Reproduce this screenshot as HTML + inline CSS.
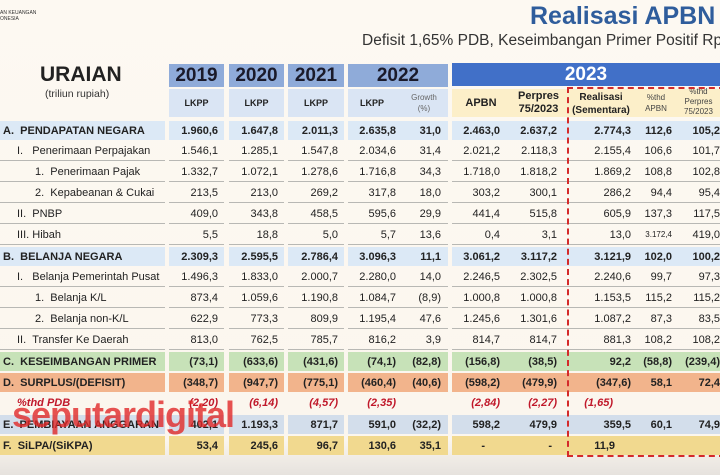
<!DOCTYPE html>
<html><head><meta charset="utf-8"><style>
*{margin:0;padding:0;box-sizing:border-box}
html,body{width:720px;height:475px;overflow:hidden}
body{background:linear-gradient(#fdf9f2 0,#fbf6ee 440px,#e6e2de 475px);font-family:"Liberation Sans",sans-serif;color:#222}
#wrap{position:relative;width:720px;height:475px;overflow:hidden}
.a{position:absolute}
.r{position:absolute;left:0;width:720px;height:21px;font-size:11px}
.r>div{position:absolute;top:0;height:20px;line-height:20px;text-align:right;white-space:nowrap}
.w>div{border-bottom:1px solid #b8b8b4}
.c0{left:0;width:165px;text-align:left!important}
.c1{left:169px;width:55px;padding-right:6px}
.c2{left:229px;width:55px;padding-right:6px}
.c3{left:288px;width:56px;padding-right:6px}
.c4{left:348px;width:52px;padding-right:4px}
.c5{left:400px;width:48px;padding-right:7px}
.c6{left:452px;width:58px;padding-right:10px}
.c7{left:510px;width:57px;padding-right:10px}
.c8{left:567px;width:68px;padding-right:4px}
.c9{left:635px;width:42px;padding-right:5px}
.c10{left:677px;width:43px;padding-right:0}
.b{font-weight:bold}
.A>div{background:#dce9f6;height:19px;top:1px}
.C>div{background:#c7e2b8;height:19px;top:1px}
.D>div{background:#f2b48c;height:19px;top:1px}
.E>div{background:#d3deeb;height:19px;top:1px}
.F>div{background:#f1d98f;height:19px;top:1px}
.P>div{color:#c0182a;font-style:italic;font-weight:bold}
.hy{position:absolute;top:64px;height:23px;background:#8fabd9;font:bold 19px "Liberation Sans",sans-serif;text-align:center;line-height:24px;color:#1a1a2a}
.hs{position:absolute;top:89px;height:28px;background:#dae5f4;font-size:9px;font-weight:bold;text-align:center;line-height:28px;color:#222}
.hz{background:#fcefc9}
</style></head><body><div id="wrap">
<div class="a" style="left:0;top:10px;font-size:5px;color:#333">AN KEUANGAN<br>ONESIA</div>
<div class="a" style="left:530px;top:2px;font:bold 25px 'Liberation Sans',sans-serif;color:#2f5d9c;white-space:nowrap">Realisasi APBN 2023</div>
<div class="a" style="left:362px;top:32px;font-size:15.5px;color:#333;white-space:nowrap">Defisit 1,65% PDB, Keseimbangan Primer Positif Rp92,2 T</div>
<div class="a" style="left:40px;top:63px;font:bold 21px 'Liberation Sans',sans-serif">URAIAN</div>
<div class="a" style="left:45px;top:88px;font-size:10.5px;color:#333">(triliun rupiah)</div>
<div class="hy" style="left:169px;width:55px">2019</div>
<div class="hy" style="left:229px;width:55px">2020</div>
<div class="hy" style="left:288px;width:56px">2021</div>
<div class="hy" style="left:348px;width:100px">2022</div>
<div class="hy" style="left:452px;width:268px;top:63px;background:#4170c8;color:#fff">2023</div>
<div class="hs" style="left:169px;width:55px">LKPP</div>
<div class="hs" style="left:229px;width:55px">LKPP</div>
<div class="hs" style="left:288px;width:56px">LKPP</div>
<div class="hs" style="left:348px;width:100px;text-align:left;padding-left:12px">LKPP</div>
<div class="a" style="left:400px;top:92px;width:48px;font-size:8px;color:#666;text-align:center;line-height:11px">Growth<br>(%)</div>
<div class="hs hz" style="left:452px;width:268px"></div>
<div class="a b" style="left:452px;top:97px;width:58px;text-align:center;font-size:11px">APBN</div>
<div class="a b" style="left:510px;top:90px;width:57px;text-align:center;font-size:11px;line-height:13px">Perpres<br>75/2023</div>
<div class="a b" style="left:567px;top:91px;width:68px;text-align:center;font-size:10px;line-height:13px">Realisasi<br>(Sementara)</div>
<div class="a" style="left:635px;top:92px;width:42px;text-align:center;font-size:8px;line-height:11px;color:#444">%thd<br>APBN</div>
<div class="a" style="left:677px;top:87px;width:43px;text-align:center;font-size:8px;line-height:10px;color:#444">%thd<br>Perpres<br>75/2023</div>

<div class="r A b" style="top:120px"><div class="c0">&nbsp;A.&nbsp;&nbsp;PENDAPATAN NEGARA</div><div class="c1">1.960,6</div><div class="c2">1.647,8</div><div class="c3">2.011,3</div><div class="c4">2.635,8</div><div class="c5">31,0</div><div class="c6">2.463,0</div><div class="c7">2.637,2</div><div class="c8">2.774,3</div><div class="c9">112,6</div><div class="c10">105,2</div></div>
<div class="r w" style="top:141px"><div class="c0" style="padding-left:17px">I.&nbsp;&nbsp;&nbsp;Penerimaan Perpajakan</div><div class="c1">1.546,1</div><div class="c2">1.285,1</div><div class="c3">1.547,8</div><div class="c4">2.034,6</div><div class="c5">31,4</div><div class="c6">2.021,2</div><div class="c7">2.118,3</div><div class="c8">2.155,4</div><div class="c9">106,6</div><div class="c10">101,7</div></div>
<div class="r w" style="top:162px"><div class="c0" style="padding-left:35px">1.&nbsp;&nbsp;Penerimaan Pajak</div><div class="c1">1.332,7</div><div class="c2">1.072,1</div><div class="c3">1.278,6</div><div class="c4">1.716,8</div><div class="c5">34,3</div><div class="c6">1.718,0</div><div class="c7">1.818,2</div><div class="c8">1.869,2</div><div class="c9">108,8</div><div class="c10">102,8</div></div>
<div class="r w" style="top:183px"><div class="c0" style="padding-left:35px">2.&nbsp;&nbsp;Kepabeanan &amp; Cukai</div><div class="c1">213,5</div><div class="c2">213,0</div><div class="c3">269,2</div><div class="c4">317,8</div><div class="c5">18,0</div><div class="c6">303,2</div><div class="c7">300,1</div><div class="c8">286,2</div><div class="c9">94,4</div><div class="c10">95,4</div></div>
<div class="r w" style="top:204px"><div class="c0" style="padding-left:17px">II.&nbsp;&nbsp;PNBP</div><div class="c1">409,0</div><div class="c2">343,8</div><div class="c3">458,5</div><div class="c4">595,6</div><div class="c5">29,9</div><div class="c6">441,4</div><div class="c7">515,8</div><div class="c8">605,9</div><div class="c9">137,3</div><div class="c10">117,5</div></div>
<div class="r w" style="top:225px"><div class="c0" style="padding-left:17px">III.&nbsp;Hibah</div><div class="c1">5,5</div><div class="c2">18,8</div><div class="c3">5,0</div><div class="c4">5,7</div><div class="c5">13,6</div><div class="c6">0,4</div><div class="c7">3,1</div><div class="c8">13,0</div><div class="c9" style="font-size:8px">3.172,4</div><div class="c10">419,0</div></div>
<div class="r A b" style="top:246px"><div class="c0">&nbsp;B.&nbsp;&nbsp;BELANJA NEGARA</div><div class="c1">2.309,3</div><div class="c2">2.595,5</div><div class="c3">2.786,4</div><div class="c4">3.096,3</div><div class="c5">11,1</div><div class="c6">3.061,2</div><div class="c7">3.117,2</div><div class="c8">3.121,9</div><div class="c9">102,0</div><div class="c10">100,2</div></div>
<div class="r w" style="top:267px"><div class="c0" style="padding-left:17px">I.&nbsp;&nbsp;&nbsp;Belanja Pemerintah Pusat</div><div class="c1">1.496,3</div><div class="c2">1.833,0</div><div class="c3">2.000,7</div><div class="c4">2.280,0</div><div class="c5">14,0</div><div class="c6">2.246,5</div><div class="c7">2.302,5</div><div class="c8">2.240,6</div><div class="c9">99,7</div><div class="c10">97,3</div></div>
<div class="r w" style="top:288px"><div class="c0" style="padding-left:35px">1.&nbsp;&nbsp;Belanja K/L</div><div class="c1">873,4</div><div class="c2">1.059,6</div><div class="c3">1.190,8</div><div class="c4">1.084,7</div><div class="c5">(8,9)</div><div class="c6">1.000,8</div><div class="c7">1.000,8</div><div class="c8">1.153,5</div><div class="c9">115,2</div><div class="c10">115,2</div></div>
<div class="r w" style="top:309px"><div class="c0" style="padding-left:35px">2.&nbsp;&nbsp;Belanja non-K/L</div><div class="c1">622,9</div><div class="c2">773,3</div><div class="c3">809,9</div><div class="c4">1.195,4</div><div class="c5">47,6</div><div class="c6">1.245,6</div><div class="c7">1.301,6</div><div class="c8">1.087,2</div><div class="c9">87,3</div><div class="c10">83,5</div></div>
<div class="r w" style="top:330px"><div class="c0" style="padding-left:17px">II.&nbsp;&nbsp;Transfer Ke Daerah</div><div class="c1">813,0</div><div class="c2">762,5</div><div class="c3">785,7</div><div class="c4">816,2</div><div class="c5">3,9</div><div class="c6">814,7</div><div class="c7">814,7</div><div class="c8">881,3</div><div class="c9">108,2</div><div class="c10">108,2</div></div>
<div class="r C b" style="top:351px"><div class="c0">&nbsp;C.&nbsp;&nbsp;KESEIMBANGAN PRIMER</div><div class="c1">(73,1)</div><div class="c2">(633,6)</div><div class="c3">(431,6)</div><div class="c4">(74,1)</div><div class="c5">(82,8)</div><div class="c6">(156,8)</div><div class="c7">(38,5)</div><div class="c8">92,2</div><div class="c9">(58,8)</div><div class="c10">(239,4)</div></div>
<div class="r D b" style="top:372px"><div class="c0">&nbsp;D.&nbsp;&nbsp;SURPLUS/(DEFISIT)</div><div class="c1">(348,7)</div><div class="c2">(947,7)</div><div class="c3">(775,1)</div><div class="c4">(460,4)</div><div class="c5">(40,6)</div><div class="c6">(598,2)</div><div class="c7">(479,9)</div><div class="c8">(347,6)</div><div class="c9">58,1</div><div class="c10">72,4</div></div>
<div class="r P" style="top:393px"><div class="c0" style="padding-left:17px">%thd PDB</div><div class="c1">(2,20)</div><div class="c2">(6,14)</div><div class="c3">(4,57)</div><div class="c4">(2,35)</div><div class="c6">(2,84)</div><div class="c7">(2,27)</div><div class="c8" style="padding-right:22px">(1,65)</div></div>
<div class="r E b" style="top:414px"><div class="c0">&nbsp;E.&nbsp;&nbsp;PEMBIAYAAN ANGGARAN</div><div class="c1">402,1</div><div class="c2">1.193,3</div><div class="c3">871,7</div><div class="c4">591,0</div><div class="c5">(32,2)</div><div class="c6">598,2</div><div class="c7">479,9</div><div class="c8">359,5</div><div class="c9">60,1</div><div class="c10">74,9</div></div>
<div class="r F b" style="top:435px"><div class="c0">&nbsp;F.&nbsp;&nbsp;SiLPA/(SiKPA)</div><div class="c1">53,4</div><div class="c2">245,6</div><div class="c3">96,7</div><div class="c4">130,6</div><div class="c5">35,1</div><div class="c6" style="padding-right:25px">-</div><div class="c7" style="padding-right:15px">-</div><div class="c8" style="padding-right:20px">11,9</div><div class="c9"></div><div class="c10"></div></div>

<div class="a" style="left:567px;top:87px;width:158px;height:370px;border:2px dashed #d42a2a"></div>
<div class="a" style="left:12px;top:394px;font:bold 36px 'Liberation Sans',sans-serif;color:rgba(225,40,40,0.8);letter-spacing:-1px;white-space:nowrap">seputardigital</div>
</div></body></html>
